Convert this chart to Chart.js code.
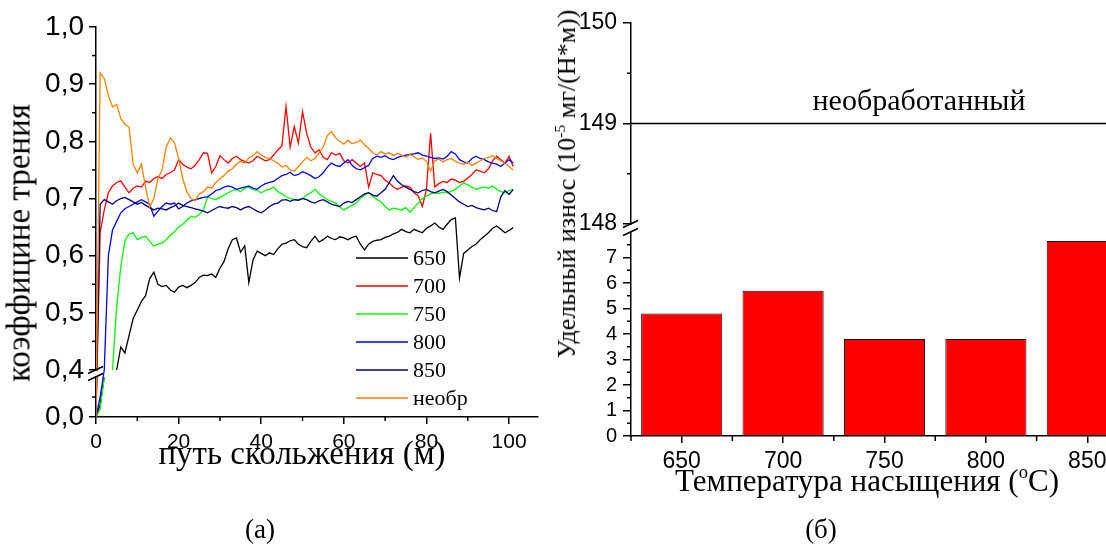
<!DOCTYPE html>
<html>
<head>
<meta charset="utf-8">
<script src="https://cdn.jsdelivr.net/npm/chart.js@4.4.1/dist/chart.umd.min.js"></script>
<style>
    html, body { margin: 0; padding: 0; background: #fff; }
    body { width: 1106px; height: 545px; overflow: hidden; position: relative; font-family: "Liberation Serif", serif; color: #000; }
    canvas { position: absolute; top: 0; }
    #frictionChart { left: 0; }
    #wearChart { left: 540px; }
    .lbl { position: absolute; white-space: nowrap; line-height: 1; transform: translate(-50%, -50%); }
    .rot { transform: translate(-50%, -50%) rotate(-90deg); }
    sup { font-size: 0.6em; vertical-align: 0.65em; line-height: 0; }
</style>
</head>
<body>
<canvas id="frictionChart" width="540" height="545"></canvas>
<canvas id="wearChart" width="600" height="545"></canvas>

<div class="lbl rot" style="left:19px; top:243px; font-size:33px;">коэффицине трения</div>
<div class="lbl" style="left:302px; top:453px; font-size:33px;">путь скольжения (м)</div>
<div class="lbl" style="left:260px; top:529px; font-size:27px;">(а)</div>
<div class="lbl rot" style="left:567px; top:184px; font-size:26px;">Удельный износ (10<sup>-5</sup> мг/(Н*м))</div>
<div class="lbl" style="left:867px; top:480px; font-size:31px;">Температура насыщения (<sup>o</sup>C)</div>
<div class="lbl" style="left:821px; top:529px; font-size:27px;">(б)</div>

<script>
// ---- data: friction coefficient vs sliding distance (m) ----
const slidingDistance = [0, 1, 2, 3, 4, 5, 6, 7, 8, 9, 10, 11, 12, 13, 14, 15, 16, 17, 18, 19,
    20, 21, 22, 23, 24, 25, 26, 27, 28, 29, 30, 31, 32, 33, 34, 35, 36, 37, 38, 39,
    40, 41, 42, 43, 44, 45, 46, 47, 48, 49, 50, 51, 52, 53, 54, 55, 56, 57, 58, 59,
    60, 61, 62, 63, 64, 65, 66, 67, 68, 69, 70, 71, 72, 73, 74, 75, 76, 77, 78, 79,
    80, 81, 82, 83, 84, 85, 86, 87, 88, 89, 90, 91, 92, 93, 94, 95, 96, 97, 98, 99, 100, 101];

const cof650 = [0.000, 0.030, 0.100, null, null, 0.400, 0.440, 0.430, 0.460, 0.490,
    0.505, 0.520, 0.530, 0.560, 0.571, 0.550, 0.546, 0.548, 0.540, 0.536,
    0.545, 0.548, 0.544, 0.548, 0.553, 0.562, 0.566, 0.565, 0.568, 0.562,
    0.578, 0.590, 0.612, 0.628, 0.631, 0.606, 0.617, 0.553, 0.592, 0.608,
    0.604, 0.600, 0.605, 0.602, 0.612, 0.620, 0.622, 0.626, 0.628, 0.620,
    0.616, 0.614, 0.625, 0.634, 0.624, 0.628, 0.634, 0.630, 0.628, 0.633,
    0.631, 0.628, 0.632, 0.634, 0.620, 0.610, 0.620, 0.625, 0.627, 0.628,
    0.632, 0.634, 0.638, 0.641, 0.646, 0.642, 0.640, 0.646, 0.643, 0.640,
    0.648, 0.652, 0.657, 0.650, 0.646, 0.655, 0.663, 0.666, 0.561, 0.604,
    0.610, 0.616, 0.620, 0.628, 0.634, 0.640, 0.648, 0.652, 0.646, 0.640,
    0.644, 0.649];

const cof700 = [0.000, 0.640, 0.680, 0.710, 0.722, 0.728, 0.731, 0.720, 0.710, 0.718,
    0.722, 0.720, 0.730, 0.728, 0.735, 0.738, 0.735, 0.742, 0.745, 0.750,
    0.768, 0.760, 0.755, 0.752, 0.758, 0.768, 0.780, 0.779, 0.745, 0.756,
    0.775, 0.768, 0.762, 0.770, 0.774, 0.768, 0.765, 0.762, 0.766, 0.774,
    0.770, 0.766, 0.768, 0.776, 0.785, 0.792, 0.861, 0.790, 0.826, 0.797,
    0.852, 0.814, 0.790, 0.780, 0.785, 0.772, 0.768, 0.780, 0.776, 0.779,
    0.766, 0.762, 0.768, 0.762, 0.756, 0.762, 0.720, 0.745, 0.742, 0.740,
    0.732, 0.727, 0.720, 0.716, 0.720, 0.722, 0.720, 0.710, 0.705, 0.686,
    0.716, 0.814, 0.720, 0.726, 0.730, 0.728, 0.734, 0.732, 0.728, 0.730,
    0.736, 0.742, 0.750, 0.748, 0.745, 0.752, 0.766, 0.774, 0.768, 0.762,
    0.774, 0.756];

const cof750 = [0.000, 0.020, 0.100, null, 0.400, 0.510, 0.580, 0.626, 0.638, 0.640,
    0.628, 0.632, 0.634, 0.625, 0.617, 0.620, 0.622, 0.628, 0.636, 0.642,
    0.650, 0.655, 0.662, 0.669, 0.667, 0.672, 0.680, 0.703, 0.700, 0.698,
    0.702, 0.706, 0.710, 0.714, 0.716, 0.712, 0.718, 0.720, 0.716, 0.714,
    0.710, 0.714, 0.716, 0.720, 0.712, 0.708, 0.703, 0.700, 0.698, 0.697,
    0.700, 0.706, 0.710, 0.716, 0.708, 0.703, 0.698, 0.695, 0.692, 0.685,
    0.680, 0.684, 0.688, 0.692, 0.700, 0.706, 0.710, 0.704, 0.698, 0.694,
    0.686, 0.680, 0.683, 0.682, 0.680, 0.684, 0.676, 0.684, 0.692, 0.700,
    0.704, 0.708, 0.710, 0.709, 0.711, 0.710, 0.713, 0.716, 0.722, 0.727,
    0.724, 0.720, 0.716, 0.718, 0.720, 0.718, 0.722, 0.716, 0.712, 0.710,
    0.714, 0.716];

const cof800 = [0.000, 0.050, 0.400, 0.600, 0.645, 0.660, 0.675, 0.682, 0.686, 0.690,
    0.694, 0.698, 0.694, 0.690, 0.669, 0.678, 0.686, 0.692, 0.690, 0.692,
    0.682, 0.686, 0.692, 0.696, 0.698, 0.700, 0.702, 0.703, 0.708, 0.714,
    0.716, 0.720, 0.722, 0.720, 0.716, 0.718, 0.720, 0.722, 0.718, 0.716,
    0.722, 0.726, 0.728, 0.730, 0.735, 0.740, 0.742, 0.746, 0.740, 0.742,
    0.747, 0.744, 0.740, 0.735, 0.738, 0.745, 0.755, 0.762, 0.758, 0.756,
    0.762, 0.768, 0.758, 0.752, 0.750, 0.754, 0.758, 0.770, 0.774, 0.772,
    0.775, 0.770, 0.768, 0.772, 0.774, 0.776, 0.777, 0.778, 0.780, 0.776,
    0.774, 0.772, 0.770, 0.771, 0.769, 0.774, 0.782, 0.778, 0.768, 0.764,
    0.762, 0.770, 0.774, 0.770, 0.768, 0.764, 0.762, 0.760, 0.756, 0.762,
    0.768, 0.762];

const cof850 = [0.000, 0.690, 0.698, 0.694, 0.690, 0.696, 0.700, 0.702, 0.698, 0.694,
    0.690, 0.693, 0.688, 0.684, 0.680, 0.683, 0.682, 0.680, 0.684, 0.687,
    0.692, 0.688, 0.686, 0.684, 0.682, 0.680, 0.678, 0.675, 0.679, 0.683,
    0.686, 0.684, 0.683, 0.686, 0.684, 0.680, 0.684, 0.686, 0.682, 0.678,
    0.675, 0.680, 0.686, 0.690, 0.692, 0.697, 0.698, 0.695, 0.698, 0.697,
    0.700, 0.698, 0.694, 0.692, 0.696, 0.698, 0.694, 0.690, 0.688, 0.686,
    0.692, 0.695, 0.693, 0.698, 0.703, 0.708, 0.710, 0.706, 0.704, 0.710,
    0.716, 0.728, 0.740, 0.730, 0.724, 0.720, 0.716, 0.712, 0.710, 0.714,
    0.716, 0.712, 0.710, 0.713, 0.716, 0.712, 0.706, 0.700, 0.694, 0.690,
    0.686, 0.688, 0.684, 0.682, 0.680, 0.683, 0.679, 0.677, 0.703, 0.714,
    0.707, 0.716];

const cofUntreated = [0.000, 0.920, 0.910, 0.880, 0.860, 0.865, 0.840, 0.830, 0.825, 0.760,
    0.745, 0.760, 0.720, 0.685, 0.700, 0.735, 0.750, 0.790, 0.806, 0.798,
    0.770, 0.735, 0.712, 0.700, 0.696, 0.708, 0.712, 0.720, 0.718, 0.728,
    0.735, 0.740, 0.748, 0.752, 0.760, 0.765, 0.762, 0.771, 0.775, 0.782,
    0.776, 0.772, 0.770, 0.766, 0.762, 0.755, 0.758, 0.750, 0.748, 0.756,
    0.764, 0.772, 0.766, 0.770, 0.780, 0.790, 0.810, 0.817, 0.806, 0.800,
    0.795, 0.802, 0.796, 0.798, 0.802, 0.794, 0.788, 0.780, 0.776, 0.782,
    0.778, 0.780, 0.775, 0.779, 0.776, 0.772, 0.777, 0.773, 0.768, 0.771,
    0.765, 0.748, 0.766, 0.769, 0.764, 0.768, 0.770, 0.765, 0.762, 0.760,
    0.764, 0.758, 0.762, 0.766, 0.770, 0.772, 0.775, 0.770, 0.766, 0.762,
    0.756, 0.750];

const seriesLabels = ["650", "700", "750", "800", "850", "необр"];
const seriesValues = [cof650, cof700, cof750, cof800, cof850, cofUntreated];
const seriesColors = ["#000000", "#ff0000", "#00ff00", "#0000ff", "#000080", "#ff8000"];

const distTicks = [0, 20, 40, 60, 80, 100];
const distMinorTicks = [10, 30, 50, 70, 90];
const frictionTicks = [0, 0.4, 0.5, 0.6, 0.7, 0.8, 0.9, 1.0];
const frictionMinorTicks = [0.05, 0.45, 0.55, 0.65, 0.75, 0.85, 0.95];

// ---- data: specific wear vs saturation temperature ----
const wearTemps = ["650", "700", "750", "800", "850"];
const wearValues = [4.8, 5.7, 3.8, 3.8, 7.65];
const untreatedWear = 149.0;
const untreatedLabel = "необработанный";
const wearTicks = [0, 1, 2, 3, 4, 5, 6, 7, 148, 149, 150];
const wearMinorTicks = [0.5, 1.5, 2.5, 3.5, 4.5, 5.5, 6.5, 7.5, 148.5, 149.5];
const tempMinorTicks = [-0.5, 0.5, 1.5, 2.5, 3.5, 4.5];

// broken y axes: lower part [min, lowMax], hidden gap, upper part [highMin, max]
const AXIS_BREAKS = {
    yFric: { lowMax: 0.1, highMin: 0.4, lowPx: 40, gapPx: 7 },
    yWear: { lowMax: 8, highMin: 148, lowPx: 204, gapPx: 8 }
};

class BrokenLinearScale extends Chart.LinearScale {
    getPixelForValue(value) {
        if (value === null || value === undefined || isNaN(value)) return NaN;
        const b = AXIS_BREAKS[this.id];
        const highPx = (this.bottom - this.top) - b.lowPx - b.gapPx;
        if (value <= b.lowMax) {
            return this.bottom - (value - this.min) / (b.lowMax - this.min) * b.lowPx;
        }
        if (value >= b.highMin) {
            return this.bottom - b.lowPx - b.gapPx - (value - b.highMin) / (this.max - b.highMin) * highPx;
        }
        return this.bottom - b.lowPx - (value - b.lowMax) / (b.highMin - b.lowMax) * b.gapPx;
    }
    getValueForPixel(pixel) {
        const b = AXIS_BREAKS[this.id];
        const highPx = (this.bottom - this.top) - b.lowPx - b.gapPx;
        const up = this.bottom - pixel;
        if (up <= b.lowPx) return this.min + up / b.lowPx * (b.lowMax - this.min);
        if (up >= b.lowPx + b.gapPx) return b.highMin + (up - b.lowPx - b.gapPx) / highPx * (this.max - b.highMin);
        return b.lowMax + (up - b.lowPx) / b.gapPx * (b.highMin - b.lowMax);
    }
}
BrokenLinearScale.id = "brokenLinear";
BrokenLinearScale.defaults = Chart.LinearScale.defaults;
Chart.register(BrokenLinearScale);

// short minor tick marks
const minorTicksPlugin = {
    id: "minorTicks",
    afterDraw(chart, args, opts) {
        const ctx = chart.ctx;
        ctx.save();
        ctx.strokeStyle = "#000";
        ctx.lineWidth = 1.5;
        (opts.items || []).forEach((item) => {
            const scale = chart.scales[item.scaleId];
            item.values.forEach((v) => {
                const p = scale.getPixelForValue(v);
                ctx.beginPath();
                if (scale.isHorizontal()) {
                    ctx.moveTo(p, scale.top);
                    ctx.lineTo(p, scale.top + item.length);
                } else {
                    ctx.moveTo(scale.right, p);
                    ctx.lineTo(scale.right - item.length, p);
                }
                ctx.stroke();
            });
        });
        ctx.restore();
    }
};

// the "//" marks where the y axis is broken
const axisBreakPlugin = {
    id: "axisBreak",
    afterDraw(chart, args, opts) {
        const ctx = chart.ctx;
        const scale = chart.scales[opts.scaleId];
        const b = AXIS_BREAKS[opts.scaleId];
        const x = scale.right;
        const yLow = scale.getPixelForValue(b.lowMax);
        const yHigh = scale.getPixelForValue(b.highMin);
        ctx.save();
        ctx.fillStyle = "#fff";
        ctx.fillRect(x - 3, yHigh + 1, 6, yLow - yHigh - 2);
        ctx.strokeStyle = "#000";
        ctx.lineWidth = 1.5;
        [yHigh, yLow].forEach((y) => {
            ctx.beginPath();
            ctx.moveTo(x - 8, y + 3.5);
            ctx.lineTo(x + 7, y - 3.5);
            ctx.stroke();
        });
        ctx.restore();
    }
};

// legend inside the friction plot
const lineLegendPlugin = {
    id: "lineLegend",
    afterDraw(chart) {
        const ctx = chart.ctx;
        const area = chart.chartArea;
        const x0 = area.left + 260;
        const y0 = area.top + 231;
        ctx.save();
        ctx.font = "22px 'Liberation Serif'";
        ctx.textBaseline = "middle";
        ctx.textAlign = "left";
        chart.data.datasets.forEach((ds, i) => {
            const y = y0 + i * 28;
            ctx.strokeStyle = ds.borderColor;
            ctx.lineWidth = 1.5;
            ctx.beginPath();
            ctx.moveTo(x0, y);
            ctx.lineTo(x0 + 52, y);
            ctx.stroke();
            ctx.fillStyle = "#000";
            ctx.fillText(ds.label, x0 + 57, y + 1);
        });
        ctx.restore();
    }
};

// horizontal level for the untreated sample
const untreatedLinePlugin = {
    id: "untreatedLine",
    afterDatasetsDraw(chart) {
        const ctx = chart.ctx;
        const area = chart.chartArea;
        const y = chart.scales.yWear.getPixelForValue(untreatedWear);
        ctx.save();
        ctx.strokeStyle = "#000";
        ctx.lineWidth = 1.5;
        ctx.beginPath();
        ctx.moveTo(area.left, y);
        ctx.lineTo(area.right, y);
        ctx.stroke();
        ctx.fillStyle = "#000";
        ctx.font = "30px 'Liberation Serif'";
        ctx.textAlign = "center";
        ctx.textBaseline = "alphabetic";
        ctx.fillText(untreatedLabel, area.left + 288, y - 14);
        ctx.restore();
    }
};

const axisLine = { color: "#000", width: 1.5 };
const tickMarks = { drawOnChartArea: false, drawTicks: true, tickLength: 7, color: "#000", lineWidth: 1.5 };

// ---- left: friction curves ----
new Chart(document.getElementById("frictionChart"), {
    type: "line",
    data: {
        datasets: seriesValues.map((vals, i) => ({
            label: seriesLabels[i],
            data: slidingDistance.map((d, j) => ({ x: d, y: vals[j] })),
            borderColor: seriesColors[i],
            borderWidth: 1.3,
            pointRadius: 0,
            tension: 0,
            spanGaps: false,
            order: seriesLabels.length - i,
            xAxisID: "xDist",
            yAxisID: "yFric"
        }))
    },
    options: {
        responsive: false,
        animation: false,
        events: [],
        layout: { padding: { top: 27, right: 2, bottom: 0, left: 0 } },
        plugins: {
            legend: { display: false },
            tooltip: { enabled: false },
            minorTicks: {
                items: [
                    { scaleId: "xDist", values: distMinorTicks, length: 4 },
                    { scaleId: "yFric", values: frictionMinorTicks, length: 4 }
                ]
            },
            axisBreak: { scaleId: "yFric" }
        },
        scales: {
            xDist: {
                type: "linear",
                position: "bottom",
                min: 0,
                max: 107,
                afterBuildTicks: (scale) => { scale.ticks = distTicks.map((v) => ({ value: v })); },
                afterFit: (scale) => { scale.height = 128; },
                grid: tickMarks,
                border: axisLine,
                ticks: { color: "#000", font: { family: "Liberation Sans", size: 21 }, padding: 6, maxRotation: 0, autoSkip: false }
            },
            yFric: {
                type: "brokenLinear",
                position: "left",
                min: 0,
                max: 1.0,
                afterBuildTicks: (scale) => { scale.ticks = frictionTicks.map((v) => ({ value: v })); },
                afterFit: (scale) => { scale.width = 96; },
                grid: tickMarks,
                border: axisLine,
                ticks: {
                    color: "#000",
                    font: { family: "Liberation Sans", size: 28 },
                    padding: 5,
                    autoSkip: false,
                    callback: (v) => Number(v).toFixed(1).replace(".", ",")
                }
            }
        }
    },
    plugins: [minorTicksPlugin, axisBreakPlugin, lineLegendPlugin]
});

// ---- right: wear bars ----
new Chart(document.getElementById("wearChart"), {
    type: "bar",
    data: {
        labels: wearTemps,
        datasets: [{
            label: "wear",
            data: wearValues,
            backgroundColor: "#ff0000",
            borderColor: "#2a0000",
            borderWidth: 1,
            barPercentage: 0.8,
            categoryPercentage: 1.0,
            xAxisID: "xTemp",
            yAxisID: "yWear"
        }]
    },
    options: {
        responsive: false,
        animation: false,
        events: [],
        layout: { padding: { top: 23, right: 2, bottom: 0, left: 0 } },
        plugins: {
            legend: { display: false },
            tooltip: { enabled: false },
            minorTicks: {
                items: [
                    { scaleId: "xTemp", values: tempMinorTicks, length: 5 },
                    { scaleId: "yWear", values: wearMinorTicks, length: 4 }
                ]
            },
            axisBreak: { scaleId: "yWear" }
        },
        scales: {
            xTemp: {
                type: "category",
                position: "bottom",
                offset: true,
                afterFit: (scale) => { scale.height = 109; },
                grid: Object.assign({}, tickMarks, { offset: false }),
                border: axisLine,
                ticks: { color: "#000", font: { family: "Liberation Sans", size: 23 }, padding: 5, maxRotation: 0, autoSkip: false }
            },
            yWear: {
                type: "brokenLinear",
                position: "left",
                min: 0,
                max: 150,
                afterBuildTicks: (scale) => { scale.ticks = wearTicks.map((v) => ({ value: v })); },
                afterFit: (scale) => { scale.width = 91; },
                grid: Object.assign({}, tickMarks, { tickLength: 8 }),
                border: axisLine,
                ticks: {
                    color: "#000",
                    font: (ctx) => ({ family: "Liberation Sans", size: ctx.tick && ctx.tick.value >= 100 ? 23 : 20 }),
                    padding: 6,
                    autoSkip: false,
                    callback: (v) => String(v)
                }
            }
        }
    },
    plugins: [minorTicksPlugin, axisBreakPlugin, untreatedLinePlugin]
});
</script>
</body>
</html>
